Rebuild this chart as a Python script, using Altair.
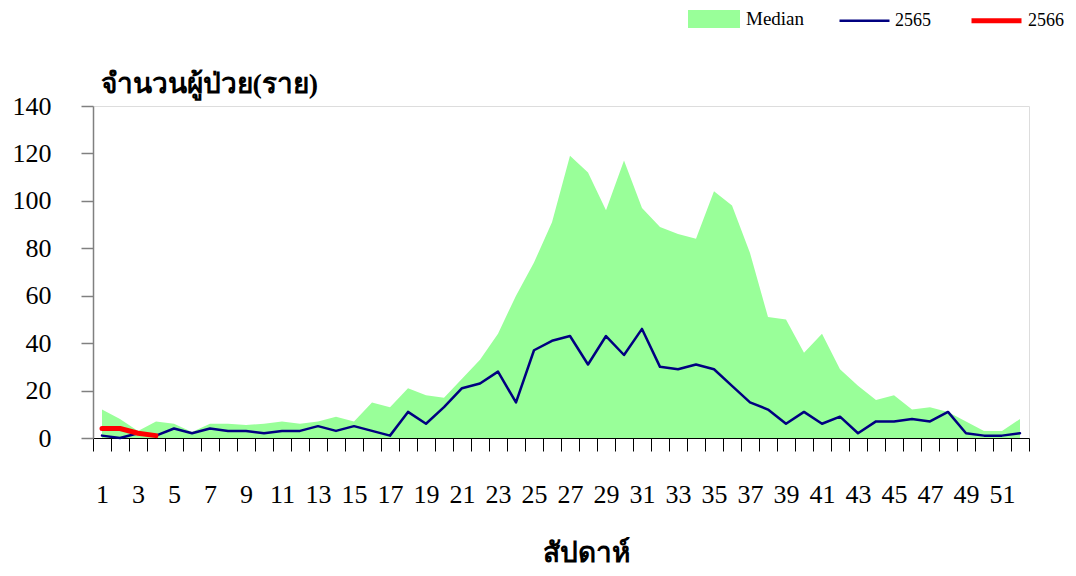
import altair as alt
import pandas as pd

weeks = list(range(1, 53))
median = [12, 8, 3, 7, 6, 2.5, 6, 6, 5.5, 6, 7, 6, 7, 9, 7, 15, 13, 21, 18, 17,
          25, 33, 44, 60, 74, 91, 119, 112, 96, 117, 97, 89, 86, 84, 104, 98, 78, 51, 50, 36,
          44, 29, 22, 16, 18, 12, 13, 11, 7, 3, 3, 8]
cases_2565 = [1, 0, 2, 1, 4, 2, 4, 3, 3, 2, 3, 3, 5, 3, 5, 3, 1, 11, 6, 13,
              21, 23, 28, 15, 37, 41, 43, 31, 43, 35, 46, 30, 29, 31, 29, 22, 15, 12, 6, 11,
              6, 9, 2, 7, 7, 8, 7, 11, 2, 1, 1, 2]
weeks_2566 = [1, 2, 3, 4]
cases_2566 = [4, 4, 2, 1]
y_ticks = [0, 20, 40, 60, 80, 100, 120, 140]

area_df = pd.DataFrame({"week": weeks, "value": median, "label": "Median"})
line_df = pd.concat([
    pd.DataFrame({"week": weeks, "value": cases_2565, "series": "2565"}),
    pd.DataFrame({"week": weeks_2566, "value": cases_2566, "series": "2566"}),
], ignore_index=True)

FONT = "Liberation Serif"

xscale = alt.Scale(type="band", paddingInner=0, paddingOuter=0, domain=weeks)
yscale = alt.Scale(domain=[0, 140], nice=False)

x_axis = alt.Axis(
    title="สัปดาห์", labelExpr="datum.value % 2 == 1 ? datum.label : ''",
    labelAngle=0, tickBand="extent", tickSize=13, labelPadding=30,
    labelFontSize=26, labelFont=FONT, labelColor="black", labelOverlap=False,
    domainColor="black", tickColor="black", domainWidth=1, tickWidth=1,
    titleFont=FONT, titleFontSize=28, titleFontWeight="bold", titleColor="black",
    titleX=493, titleY=115, titleBaseline="middle", titleAlign="center",
)
y_axis = alt.Axis(
    title="จำนวนผู้ป่วย(ราย)", values=y_ticks, tickSize=12, labelPadding=30,
    labelFontSize=26, labelFont=FONT, labelColor="black", grid=False,
    domainColor="#808080", tickColor="#808080", domainWidth=1.5, tickWidth=1.5,
    titleFont=FONT, titleFontSize=28, titleFontWeight="bold", titleColor="black",
    titleAngle=0, titleX=7, titleY=-22, titleAlign="left", titleBaseline="middle",
)

fill_legend = alt.Legend(
    title=None, orient="none", legendX=595, legendY=-113, direction="horizontal",
    symbolType="M-1,-0.346L1,-0.346L1,0.346L-1,0.346Z", symbolSize=2704,
    symbolStrokeWidth=0, labelFont=FONT, labelFontSize=19, labelColor="black",
    labelOffset=6, padding=0,
)
line_legend = alt.Legend(
    title=None, orient="none", legendX=745, legendY=-113, direction="horizontal",
    symbolType="stroke", symbolSize=2500, labelFont=FONT, labelFontSize=18,
    labelColor="black", labelOffset=4, columnPadding=30, padding=0,
)

area = alt.Chart(area_df).mark_area(opacity=1).encode(
    x=alt.X("week:O", scale=xscale, axis=x_axis),
    y=alt.Y("value:Q", scale=yscale, axis=y_axis),
    fill=alt.Fill("label:N", scale=alt.Scale(domain=["Median"], range=["#99FF99"]),
                  legend=fill_legend),
)

lines = alt.Chart(line_df).mark_line(strokeCap="round", strokeJoin="round").encode(
    x=alt.X("week:O", scale=xscale),
    y=alt.Y("value:Q", scale=yscale),
    stroke=alt.Stroke("series:N", scale=alt.Scale(domain=["2565", "2566"],
                                                  range=["#000080", "#FF0000"]),
                      legend=line_legend),
    strokeWidth=alt.StrokeWidth("series:N", scale=alt.Scale(domain=["2565", "2566"],
                                                            range=[2.5, 5]),
                                legend=line_legend),
)

chart = alt.layer(area, lines).resolve_scale(fill="independent").properties(
    width=936, height=332,
    autosize=alt.AutoSizeParams(type="none"),
    padding={"left": 85, "top": 98, "right": 39, "bottom": 130},
).configure_view(stroke=None).configure(background="white")

chart.save("out.html", embed_options={"renderer": "svg", "actions": False})
